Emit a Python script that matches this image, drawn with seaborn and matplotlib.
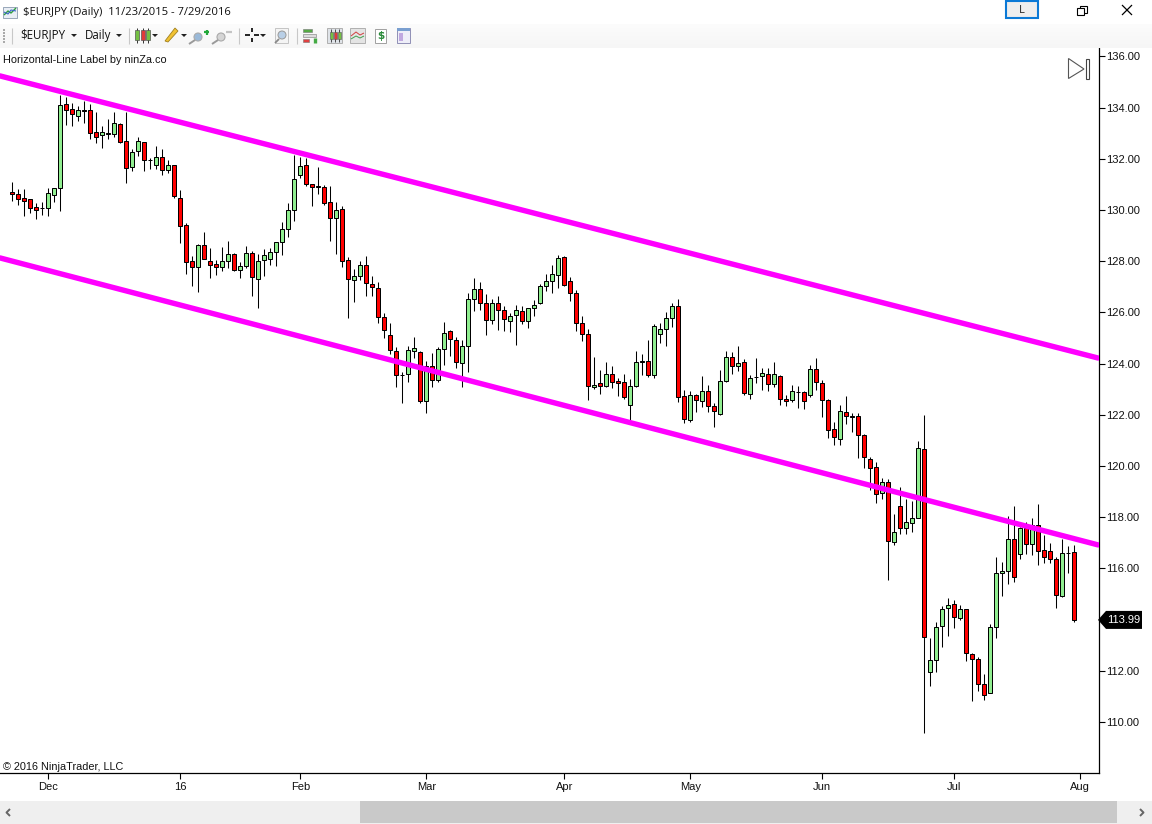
import matplotlib
matplotlib.use("Agg")
import matplotlib.pyplot as plt
from matplotlib.patches import Rectangle, Polygon, Circle
import pandas as pd
import seaborn as sns

highs = [131.08,130.81,130.81,130.42,130.26,130.33,130.85,130.85,134.49,134.43,
134.19,134.06,134.26,134.14,133.83,133.28,133.54,133.83,133.39,133.84,
132.37,132.84,132.67,132.02,132.50,132.37,131.95,131.77,130.77,129.48,
128.20,128.67,129.13,128.52,128.05,128.56,128.78,128.31,127.96,128.60,
128.39,128.27,128.48,128.53,128.74,129.52,130.27,132.15,132.09,132.02,
131.01,131.67,130.97,130.93,130.31,130.15,128.16,127.69,128.00,128.20,
127.41,127.18,125.97,125.58,124.64,123.66,124.69,125.03,124.48,124.11,
124.41,124.64,125.62,125.31,125.03,124.91,126.75,127.34,127.18,126.71,
126.52,126.65,126.24,125.98,126.29,126.24,126.16,126.48,127.10,127.49,
127.85,128.24,128.19,127.37,126.86,125.85,125.35,124.26,123.75,124.06,
123.91,123.43,123.58,123.39,124.48,124.38,124.91,125.54,125.57,126.00,
126.36,126.51,122.96,122.92,122.80,123.52,123.17,122.45,123.74,124.48,
124.44,124.68,124.17,123.54,124.22,123.82,123.82,124.05,123.54,122.78,
123.15,123.14,122.92,123.93,124.21,123.35,122.61,121.71,122.38,122.73,
122.07,122.07,121.25,120.35,120.15,119.53,119.49,118.13,119.18,118.72,
118.64,120.97,122.00,113.28,113.90,114.53,114.84,114.76,114.57,114.41,
112.69,112.53,111.88,113.82,116.44,116.25,118.04,118.43,117.61,117.81,
117.96,118.51,117.31,116.99,116.44,117.14,116.87,116.91]

lows = [130.37,130.20,129.78,129.88,129.66,129.81,129.78,130.33,129.98,133.32,
133.30,133.48,133.39,132.79,132.63,132.44,132.78,132.87,132.61,131.07,
131.54,132.11,131.54,131.60,131.59,131.37,131.46,130.48,128.70,127.51,
127.05,126.81,128.07,127.36,127.46,127.63,127.74,127.61,127.35,127.75,
126.64,126.19,127.42,127.85,127.83,128.25,128.95,129.58,131.27,130.92,
130.14,130.63,130.19,128.79,128.29,127.79,125.80,126.39,127.27,126.66,
126.66,125.60,125.01,124.39,123.10,122.48,123.30,124.24,122.48,122.09,
123.10,123.30,123.95,124.28,123.83,123.07,123.69,126.06,126.10,125.10,
125.55,125.33,125.29,125.25,124.71,125.54,125.41,125.86,126.32,126.82,
126.77,126.97,127.05,126.46,125.29,124.90,122.59,123.00,122.83,123.07,
123.04,122.75,122.61,121.79,123.07,123.56,123.47,123.43,124.81,124.69,
125.42,122.50,121.69,121.73,122.12,122.32,122.12,121.54,121.98,123.30,
123.61,123.73,122.79,122.63,123.26,122.98,122.94,123.07,122.38,122.36,
122.49,122.28,122.24,122.68,122.98,121.93,121.11,120.84,120.84,121.66,
121.34,120.33,119.94,119.06,118.54,118.73,115.54,116.92,117.35,117.33,
117.44,117.96,109.59,111.39,111.94,112.95,113.38,113.69,113.97,112.40,
110.84,111.23,110.88,111.13,113.30,114.93,115.41,115.49,116.35,116.57,
116.53,116.15,116.23,116.23,114.46,114.90,115.84,113.89]

opens = [130.69,130.61,130.46,130.42,130.11,130.08,130.07,130.60,130.85,134.14,
133.93,133.69,133.90,133.90,133.04,132.94,133.00,132.96,133.35,132.68,
131.67,132.29,132.65,131.97,131.75,132.06,131.55,131.75,130.46,129.40,
128.00,127.76,128.62,128.00,127.88,127.76,128.00,128.27,127.65,127.80,
128.31,127.32,128.04,128.07,128.35,128.74,129.25,129.99,131.36,131.75,
131.01,130.92,130.89,130.31,129.68,130.03,128.04,127.26,127.41,127.84,
127.10,126.95,125.81,125.11,124.48,123.57,123.59,124.48,124.45,122.53,
123.90,123.35,124.56,125.27,124.91,124.02,124.68,126.52,126.91,126.36,
125.70,126.36,126.09,125.66,125.89,126.05,125.66,126.16,126.36,127.02,
127.22,127.45,128.15,127.22,126.75,125.57,125.15,123.07,123.23,123.11,
123.58,123.31,123.27,122.37,123.11,124.09,124.09,123.54,125.15,125.34,
125.77,126.24,122.72,121.79,122.76,122.53,122.92,122.33,122.02,123.31,
124.25,123.90,124.05,122.80,123.48,123.50,123.58,123.19,123.50,122.61,
122.57,122.91,122.88,122.76,123.78,123.23,122.57,121.44,121.05,122.11,
121.94,121.95,121.21,120.27,119.96,118.94,119.37,117.03,118.43,117.57,
117.77,117.96,120.66,111.95,112.42,113.75,114.45,114.61,114.06,114.41,
112.65,112.46,111.48,111.13,113.71,115.82,115.89,117.14,116.56,117.57,
116.95,117.69,116.71,116.68,116.36,114.92,116.62,116.64]

closes = [130.64,130.44,130.37,130.07,130.01,130.07,130.65,130.85,134.09,133.92,
133.74,133.90,133.88,133.00,132.84,133.04,132.96,133.39,132.67,131.63,
132.25,132.68,131.94,131.95,132.06,131.55,131.75,130.54,129.36,127.96,
127.76,128.62,128.07,127.87,127.76,128.00,128.27,127.67,127.80,128.31,
127.37,128.00,128.23,128.35,128.74,129.25,129.99,131.20,131.71,131.01,
130.89,130.90,130.27,129.68,129.99,128.00,127.30,127.41,127.84,127.14,
126.98,125.81,125.31,124.52,123.55,123.56,124.52,124.60,122.53,123.90,
123.35,124.56,125.19,124.95,124.05,124.68,126.52,126.91,126.36,125.70,
126.36,126.09,125.73,125.85,126.09,125.66,126.16,126.28,127.02,127.22,
127.49,128.11,127.06,126.75,125.57,125.15,123.11,123.15,123.11,123.58,
123.27,123.23,122.68,123.11,124.05,124.05,123.54,125.46,125.34,125.77,
126.24,122.68,121.82,122.76,122.57,122.92,122.33,122.14,123.31,124.25,
123.90,124.01,122.84,123.43,123.47,123.62,123.19,123.58,122.61,122.53,
122.92,122.89,122.53,123.78,123.27,122.57,121.40,121.12,122.14,121.95,
121.92,121.21,120.35,119.92,118.90,119.37,117.07,117.42,117.57,117.81,
117.96,120.70,113.32,112.42,113.71,114.41,114.57,114.10,114.41,112.69,
112.46,111.48,111.05,113.71,115.82,115.89,117.14,115.66,117.57,116.95,
117.69,116.68,116.44,116.36,114.96,116.60,116.61,113.99]

month_labels = ["Dec", "16", "Feb", "Mar", "Apr", "May", "Jun", "Jul", "Aug"]
month_bars = [6, 28, 48, 69, 92, 113, 135, 157, 178]
price_ticks = [110, 112, 114, 116, 118, 120, 122, 124, 126, 128, 130, 132, 134, 136]
channel_bars = [-2.05, 180.95]
channel_upper = [135.24, 124.22]
channel_lower = [128.13, 116.92]
last_price = 113.99

UP, DOWN, MAGENTA = "#90EE90", "#FF0000", "#FF00FF"
W, H = 1152, 824

sns.set_theme(style="white")
FONT = ["Liberation Sans", "DejaVu Sans"]
UI = ["Open Sans", "DejaVu Sans"]
plt.rcParams["font.family"] = FONT

fig = plt.figure(figsize=(W / 100, H / 100), dpi=100, facecolor="white")
ax = fig.add_axes([0, (H - 773) / H, 1098.5 / W, (773 - 48) / H])
ax.set_xlim(-2.05, 181.03)
ax.set_ylim(108.01, 136.33)

candles = pd.DataFrame({"bar": range(len(highs)), "high": highs, "low": lows,
                        "open": opens, "close": closes})
candles["bottom"] = candles[["open", "close"]].min(axis=1)
candles["height"] = (candles["close"] - candles["open"]).abs()
candles["colour"] = [UP if c > o else DOWN for o, c in zip(opens, closes)]

ax.vlines(candles["bar"], candles["low"], candles["high"], color="black", lw=0.75, zorder=2)
ax.bar(candles["bar"], candles["height"], bottom=candles["bottom"], width=0.72,
       color=candles["colour"], edgecolor="black", linewidth=0.72, zorder=3)

channel = pd.DataFrame({"bar": channel_bars * 2, "price": channel_upper + channel_lower,
                        "edge": ["upper", "upper", "lower", "lower"]})
sns.lineplot(data=channel, x="bar", y="price", units="edge", estimator=None,
             color=MAGENTA, linewidth=3.9, ax=ax, zorder=4, legend=False)

ax.set_xlabel("")
ax.set_ylabel("")
ax.set_xticks(month_bars, month_labels)
ax.set_yticks(price_ticks, [f"{p:.2f}" for p in price_ticks])
ax.yaxis.tick_right()
ax.tick_params(axis="y", right=True, length=4, width=0.8, color="black", pad=1.5,
               labelsize=8, labelcolor="#111111")
ax.tick_params(axis="x", bottom=True, length=4, width=0.8, color="black", pad=2.5,
               labelsize=8, labelcolor="#111111")
ax.spines["top"].set_visible(False)
ax.spines["left"].set_visible(False)
for side in ("right", "bottom"):
    ax.spines[side].set_color("black")
    ax.spines[side].set_linewidth(0.9)

# window chrome, drawn in screen pixels on an overlay
ui = fig.add_axes([0, 0, 1, 1], facecolor="none")
ui.set_xlim(0, W)
ui.set_ylim(H, 0)
ui.axis("off")


def box(x, y, w, h, fc="none", ec="none", lw=0.7, z=1):
    ui.add_patch(Rectangle((x, y), w, h, facecolor=fc, edgecolor=ec, linewidth=lw, zorder=z))


def seg(xs, ys, c="black", lw=0.8, z=3):
    ui.plot(xs, ys, color=c, lw=lw, zorder=z, solid_capstyle="butt")


# toolbar band with a soft gradient
for i, g in enumerate(["#fbfbfb", "#fafafa", "#f9f9f9", "#f8f8f8", "#f7f7f7", "#f6f6f6"]):
    box(0, 24 + i * 4, W, 4, fc=g)
ui.text(23, 12, "$EURJPY (Daily)  11/23/2015 - 7/29/2016", fontsize=8.15, family=UI,
        color="#111111", va="center", ha="left")
ui.text(20, 35, "$EURJPY", fontsize=8.3, family=UI, color="#111111", va="center")
ui.text(85, 35, "Daily", fontsize=8.3, family=UI, color="#111111", va="center")
for tx in (74, 119, 155, 184, 263):
    ui.add_patch(Polygon([(tx - 3, 34), (tx + 3, 34), (tx, 37)], fc="#222222", ec="none", zorder=3))
for sx in (12, 129, 239, 297):
    seg([sx, sx], [28, 44], c="#c8c8c8", lw=0.8)
for gy in (29, 32, 35, 38, 41):
    box(3, gy, 2, 1.5, fc="#aaaaaa")

# title icon
box(3, 7, 14, 11, fc="#e9eef5", ec="#8a9bb0", lw=0.6)
seg([4, 8, 11, 16], [15, 11, 13, 8], c="#2e9e3e", lw=1)
seg([4, 8, 11, 16], [12, 14, 10, 11], c="#3a66c4", lw=0.8)

# candle icon
for cx, cf in ((137, "#74c043"), (143, "#e03b3b"), (148, "#74c043")):
    seg([cx, cx], [28, 43], c="#333333", lw=0.7)
    box(cx - 2, 30, 4, 10, fc=cf, ec="#555555", lw=0.5, z=4)
# pencil
ui.add_patch(Polygon([(165, 41), (168, 42), (178, 31), (175, 28)], fc="#f1c232", ec="#a08020", lw=0.6, zorder=3))
# zoom icons
for mx, mc in ((198, "#9ab9d8"), (221, "#d5d5d5")):
    ui.add_patch(Circle((mx, 37), 4, fc=mc, ec="#aaaaaa", lw=0.8, zorder=3))
    seg([mx - 3, mx - 9], [40, 44], c="#9a9a9a", lw=1.4)
seg([204, 209], [32, 32], c="#22a83a", lw=1.6)
seg([206.5, 206.5], [29.5, 34.5], c="#22a83a", lw=1.6)
seg([226, 232], [32, 32], c="#c4c4c4", lw=1.6)
# crosshair
seg([245, 250], [35, 35], lw=1.2)
seg([254, 259], [35, 35], lw=1.2)
seg([252, 252], [28, 32], lw=1.2)
seg([252, 252], [38, 42], lw=1.2)
# magnifier button
box(275, 28, 13, 15, fc="#f4f4f4", ec="#c4c4c4")
ui.add_patch(Circle((282, 35), 4, fc="#b9cfe6", ec="#999999", lw=0.7, zorder=3))
seg([279, 275], [39, 43], c="#888888", lw=1.3)
# properties-like icons
for by, bw, bc in ((29, 9, "#55aa44"), (34, 13, "#dddddd"), (39, 6, "#e04040")):
    box(303, by, bw, 3, fc=bc, ec="#777777", lw=0.4, z=3)
seg([315, 315], [38, 43], c="#44aa44", lw=2.4)
box(327, 28, 15, 15, fc="#dfe3e8", ec="#b0b0b0")
for cx, cf in ((331, "#74c043"), (335, "#e03b3b"), (339, "#74c043")):
    seg([cx, cx], [29, 42], c="#333333", lw=0.6)
    box(cx - 1.5, 32, 3, 7, fc=cf, ec="#555555", lw=0.4, z=4)
box(350, 28, 15, 15, fc="#e4e4e4", ec="#b0b0b0")
seg([351, 356, 360, 364], [36, 32, 35, 33], c="#d04040", lw=0.7)
seg([351, 356, 360, 364], [39, 36, 38, 36], c="#40a050", lw=0.7)
box(375, 29, 11, 14, fc="white", ec="#a0a0a0")
ui.text(380.5, 36, "$", fontsize=7.5, weight="bold", color="#2a8a3a", ha="center", va="center",
        family="DejaVu Sans", zorder=4)
box(397, 28, 13, 15, fc="#eeeef8", ec="#8f8fb5")
box(397, 28, 13, 3, fc="#7a9fd0", z=3)
box(399, 33, 4, 8, fc="#c0a8e0", z=3)

# window buttons
box(1006, 1, 32, 17, fc="#eeeeee", ec="#0b79d6", lw=1.5, z=2)
ui.text(1022, 10, "L", fontsize=8, family=UI, color="#222222", ha="center", va="center", zorder=3)
box(1077, 7.5, 7, 7, ec="black", fc="white", lw=0.8, z=3)
box(1079.5, 5.5, 7, 7, ec="black", lw=0.8, z=2)
seg([1122, 1132], [5, 15], lw=0.9)
seg([1122, 1132], [15, 5], lw=0.9)

# chart overlays
ui.text(3, 60, "Horizontal-Line Label by ninZa.co", fontsize=7.85, color="#111111", va="center", zorder=6)
ui.text(3, 767, "\u00a9 2016 NinjaTrader, LLC", fontsize=7.85, color="#111111", va="center", zorder=6)
ui.add_patch(Polygon([(1068.5, 58.5), (1084, 69), (1068.5, 78.5)], fc="white", ec="#555555", lw=0.8, zorder=6))
box(1085.5, 58.5, 3.2, 20, fc="white", ec="#444444", lw=0.8, z=6)

# last-price marker
tag_py = H - ax.transData.transform((0, last_price))[1]
ui.add_patch(Polygon([(1098, tag_py), (1106, tag_py - 9), (1142, tag_py - 9), (1142, tag_py + 9), (1106, tag_py + 9)],
                     fc="black", ec="none", zorder=6))
ui.text(1124, tag_py, f"{last_price:.2f}", fontsize=8, color="white", ha="center", va="center", zorder=7)

# bottom scrollbar
box(0, 801, W, 23, fc="#efefef")
box(360, 801, 757, 22, fc="#c9c9c9", z=2)
seg([10, 6.5, 10], [809, 812.5, 816], c="#666666", lw=1.4)
seg([1140, 1143.5, 1140], [809, 812.5, 816], c="#666666", lw=1.4)

fig.savefig("out.png", dpi=100)
